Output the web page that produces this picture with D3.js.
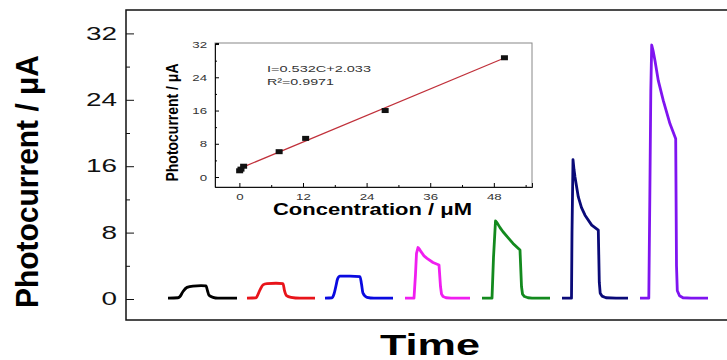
<!DOCTYPE html>
<html>
<head>
<meta charset="utf-8">
<script src="https://cdn.jsdelivr.net/npm/d3@7"></script>
<style>
  body { margin: 0; background: #fff; }
  svg { display: block; font-family: "Liberation Sans", Arial, sans-serif; }
</style>
</head>
<body>
<svg id="chart" width="727" height="360"></svg>
<script>
// main chart data: photocurrent (uA) vs time (s), one pulse per concentration
var blackTrace = [[42,0.1],[52,0.15],[54,0.3],[57,0.9],[61,1.4],[67,1.56],[75,1.6],[80,1.58],[81.5,1.0],[83,0.45],[87,0.2],[92,0.1],[111,0.1]];
var redTrace = [[121,0.1],[130,0.15],[131,0.3],[134,1.1],[137,1.7],[141,1.85],[150,1.9],[157,1.85],[158.5,1.0],[160.5,0.4],[165,0.2],[174,0.1],[189,0.1]];
var blueTrace = [[199,0.1],[206,0.15],[208,0.6],[210,1.6],[211.5,2.4],[214,2.75],[224,2.75],[234,2.7],[235.5,1.8],[237,0.7],[241,0.2],[248,0.1],[267,0.1]];
var magentaTrace = [[279,0.1],[288,0.1],[289.5,3],[290.5,5.5],[292,6.2],[293.5,6.0],[295,5.7],[298,5.2],[301,4.9],[307,4.4],[313,4.1],[314.5,1.5],[315.5,0.6],[317,0.3],[320,0.15],[325,0.1],[344,0.1]];
var greenTrace = [[356,0.1],[366,0.1],[367.5,5],[369.5,9.4],[371,9.2],[374,8.6],[377,8.1],[382,7.4],[387,6.7],[394,5.9],[395.5,1.5],[396.5,0.6],[398.5,0.3],[402,0.15],[406,0.1],[424,0.1]];
var navyTrace = [[436,0.1],[445.5,0.1],[446,8],[447,16.8],[448,15.6],[449,14.7],[452.3,12.3],[455.5,11.0],[459,10.1],[465.7,8.9],[472.3,8.3],[473.3,2],[474.2,0.7],[476,0.35],[480,0.15],[490,0.1],[502,0.1]];
var purpleTrace = [[514,0.1],[522.8,0.1],[523.8,12],[524.8,25],[525.7,30.6],[527.3,29.8],[529,28.7],[532.3,26.3],[537.3,23.9],[544,21.1],[549.7,19.3],[550.5,4],[551.3,1.0],[553.5,0.4],[557,0.15],[565,0.1],[582,0.1]];

var traces = [blackTrace, redTrace, blueTrace, magentaTrace, greenTrace, navyTrace, purpleTrace];
var traceColors = ["#000000", "#e8141a", "#0a0ae0", "#f01ef0", "#138a1e", "#0a0a78", "#7f14f0"];
var traceSmooth = [true, true, true, false, false, false, false];

var mainTicks = [0, 8, 16, 24, 32];
var mainMinorTicks = [4, 12, 20, 28];

// inset data: calibration points
var concentration = [0.05, 0.3, 0.8, 7.5, 12.5, 27.5, 50];
var peakCurrent = [1.5, 1.9, 2.6, 6.1, 9.3, 16.0, 28.7];
var fitSlope = 0.532;
var fitIntercept = 2.033;
var fitRange = [0, 50];
var insetYTicks = [0, 8, 16, 24, 32];
var insetYMinor = [4, 12, 20, 28];
var insetXTicks = [0, 12, 24, 36, 48];
var insetXMinor = [6, 18, 30, 42, 54];

var svg = d3.select("#chart");
var sansFont = "Liberation Sans";

// ---- main plot ----
var x = d3.scaleLinear().domain([0, 614]).range([126, 740]);
var y = d3.scaleLinear().domain([-2.53, 34.82]).range([320, 10]);

svg.append("rect")
  .attr("x", 126).attr("y", 10)
  .attr("width", 614).attr("height", 310)
  .attr("fill", "none").attr("stroke", "#111").attr("stroke-width", 1.5);

var yAxis = svg.append("g")
  .attr("transform", "translate(126,0)")
  .call(d3.axisLeft(y).tickValues(mainTicks).tickSize(-8).tickPadding(5.8).tickFormat(d3.format("d")))
  .attr("font-family", sansFont);
yAxis.select(".domain").remove();
yAxis.selectAll("line").attr("stroke", "#111");
yAxis.selectAll("text")
  .attr("font-size", 18)
  .attr("fill", "#111")
  .attr("transform", "scale(1.55,1)");

var yMinor = svg.append("g")
  .attr("transform", "translate(126,0)")
  .call(d3.axisLeft(y).tickValues(mainMinorTicks).tickSize(-4).tickFormat(""));
yMinor.select(".domain").remove();
yMinor.selectAll("line").attr("stroke", "#111");

var smoothLine = d3.line()
  .x(function (d) { return x(d[0]); })
  .y(function (d) { return y(d[1]); })
  .curve(d3.curveMonotoneX);
var sharpLine = d3.line()
  .x(function (d) { return x(d[0]); })
  .y(function (d) { return y(d[1]); });

svg.append("g").selectAll("path")
  .data(traces)
  .enter()
  .append("path")
  .attr("d", function (d, i) { return traceSmooth[i] ? smoothLine(d) : sharpLine(d); })
  .attr("fill", "none")
  .attr("stroke", function (d, i) { return traceColors[i]; })
  .attr("stroke-width", 2.8)
  .attr("stroke-linejoin", "round");

svg.append("text")
  .attr("transform", "translate(38,181.5) rotate(-90)")
  .attr("text-anchor", "middle")
  .attr("font-size", 31)
  .attr("font-weight", "bold")
  .attr("textLength", 253)
  .attr("lengthAdjust", "spacingAndGlyphs")
  .text("Photocurrent / μA");

svg.append("text")
  .attr("x", 380).attr("y", 355)
  .attr("font-size", 30)
  .attr("font-weight", "bold")
  .attr("textLength", 100)
  .attr("lengthAdjust", "spacingAndGlyphs")
  .text("Time");

// ---- inset ----
var ix = d3.scaleLinear().domain([-4.6, 55.2]).range([215, 532]);
var iy = d3.scaleLinear().domain([-2.4, 32.25]).range([187, 43]);

svg.append("rect")
  .attr("x", 215).attr("y", 43)
  .attr("width", 317).attr("height", 144)
  .attr("fill", "#fff").attr("stroke", "#888").attr("stroke-width", 1);

var iyAxis = svg.append("g")
  .attr("transform", "translate(215,0)")
  .call(d3.axisLeft(iy).tickValues(insetYTicks).tickSize(-4).tickPadding(5.7).tickFormat(d3.format("d")))
  .attr("font-family", sansFont);
iyAxis.select(".domain").attr("stroke", "#111");
iyAxis.selectAll("text")
  .attr("font-size", 9.5).attr("fill", "#333")
  .attr("transform", "scale(1.4,1)");

var iyMinor = svg.append("g")
  .attr("transform", "translate(215,0)")
  .call(d3.axisLeft(iy).tickValues(insetYMinor).tickSize(-2).tickFormat(""));
iyMinor.select(".domain").remove();

var ixAxis = svg.append("g")
  .attr("transform", "translate(0,187)")
  .call(d3.axisBottom(ix).tickValues(insetXTicks).tickSize(-4).tickPadding(6).tickFormat(d3.format("d")))
  .attr("font-family", sansFont);
ixAxis.select(".domain").attr("stroke", "#111");
ixAxis.selectAll("text")
  .attr("font-size", 9.5).attr("fill", "#333")
  .attr("transform", "scale(1.4,1)");

var ixMinor = svg.append("g")
  .attr("transform", "translate(0,187)")
  .call(d3.axisBottom(ix).tickValues(insetXMinor).tickSize(-2).tickFormat(""));
ixMinor.select(".domain").remove();

svg.append("line")
  .attr("x1", ix(fitRange[0])).attr("y1", iy(fitSlope * fitRange[0] + fitIntercept))
  .attr("x2", ix(fitRange[1])).attr("y2", iy(fitSlope * fitRange[1] + fitIntercept))
  .attr("stroke", "#c0303a").attr("stroke-width", 1.2);

svg.append("g").selectAll("rect")
  .data(concentration)
  .enter()
  .append("rect")
  .attr("x", function (d) { return ix(d) - 3.5; })
  .attr("y", function (d, i) { return iy(peakCurrent[i]) - 2.5; })
  .attr("width", 7).attr("height", 5)
  .attr("fill", "#111");

svg.append("text")
  .attr("x", 267).attr("y", 72)
  .attr("font-size", 9.5).attr("fill", "#333")
  .attr("textLength", 104).attr("lengthAdjust", "spacingAndGlyphs")
  .text("I=0.532C+2.033");

svg.append("text")
  .attr("x", 267).attr("y", 85)
  .attr("font-size", 9.5).attr("fill", "#333")
  .attr("textLength", 67).attr("lengthAdjust", "spacingAndGlyphs")
  .text("R²=0.9971");

svg.append("text")
  .attr("transform", "translate(178,122.5) rotate(-90)")
  .attr("text-anchor", "middle")
  .attr("font-size", 17)
  .attr("font-weight", "bold")
  .attr("textLength", 118)
  .attr("lengthAdjust", "spacingAndGlyphs")
  .text("Photocurrent / μA");

svg.append("text")
  .attr("x", 273).attr("y", 215)
  .attr("font-size", 16.5)
  .attr("font-weight", "bold")
  .attr("textLength", 199)
  .attr("lengthAdjust", "spacingAndGlyphs")
  .text("Concentration / μM");
</script>
</body>
</html>
